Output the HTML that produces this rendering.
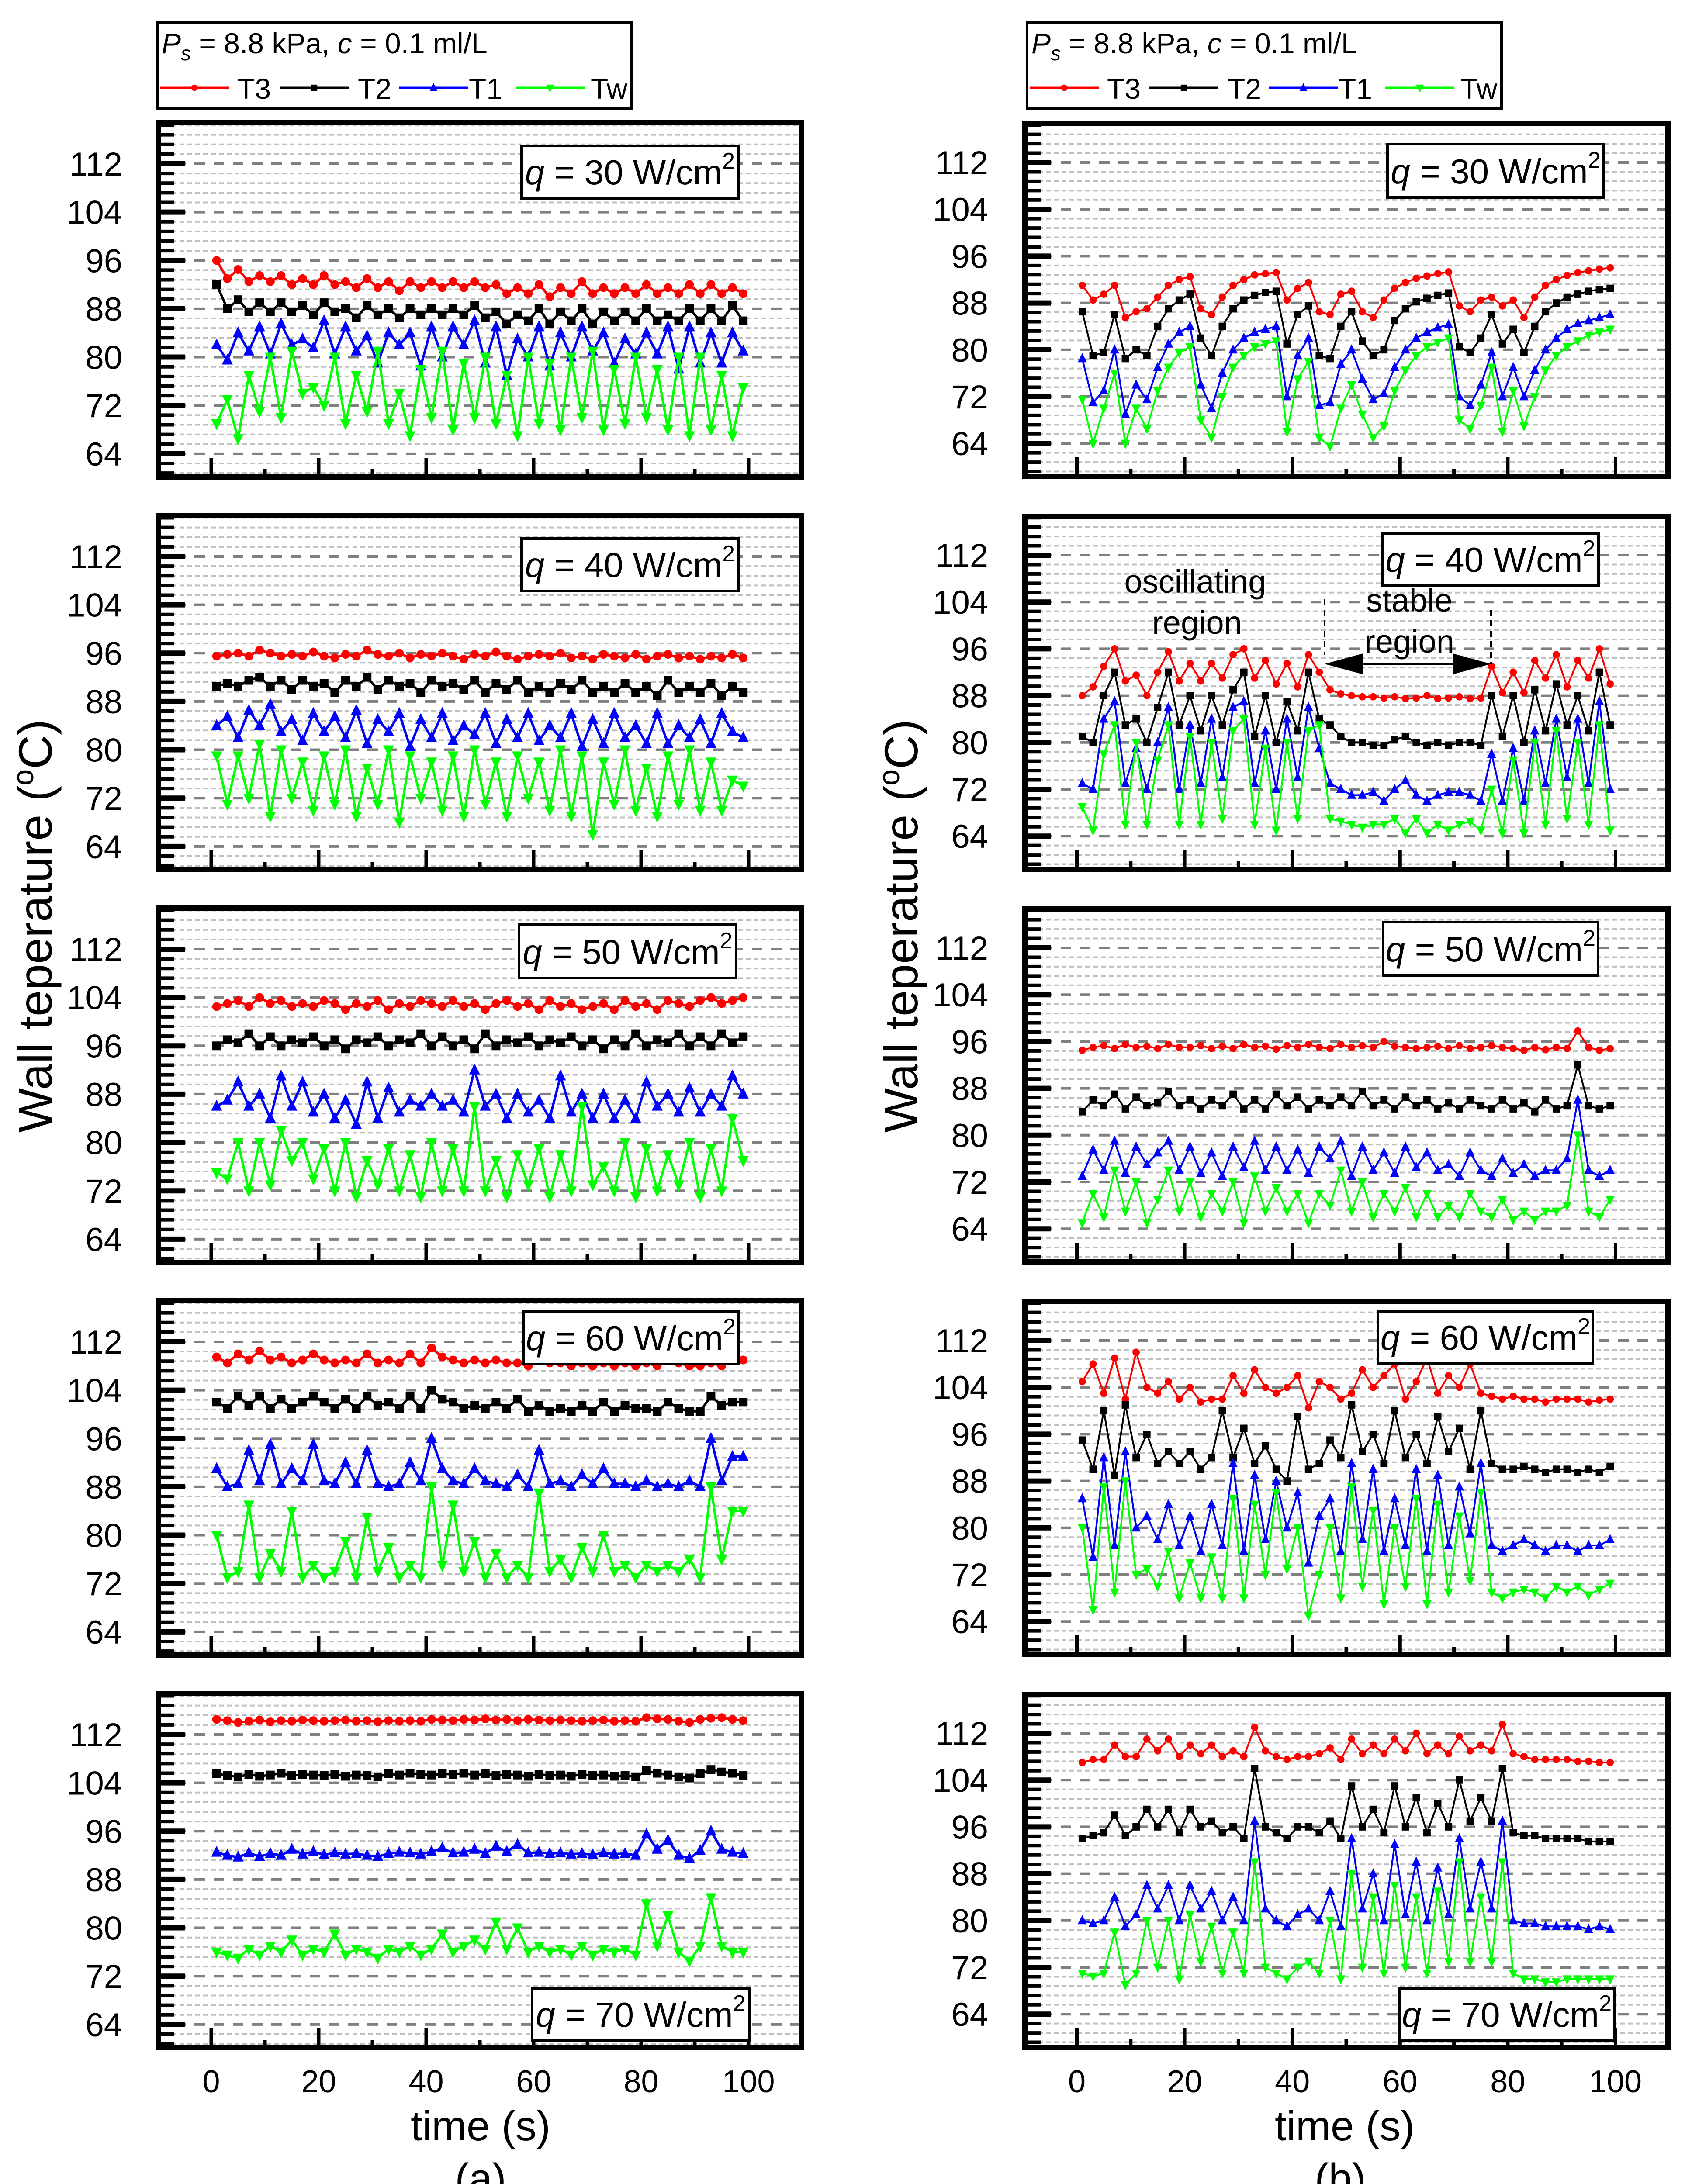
<!DOCTYPE html>
<html><head><meta charset="utf-8"><style>
html,body{margin:0;padding:0;background:#fff;width:3857px;height:5081px;overflow:hidden;}
svg{display:block;}
svg text{font-family:"Liberation Sans",Arial,sans-serif;}
</style></head><body>
<svg id="fig" xmlns="http://www.w3.org/2000/svg" width="3857" height="5081" viewBox="0 0 3857 5081" overflow="hidden">
<rect x="0" y="0" width="3857" height="5081" fill="#fff"/>
</svg>
<script>
const times=[1,3,5,7,9,11,13,15,17,19,21,23,25,27,29,31,33,35,37,39,41,43,45,47,49,51,53,55,57,59,61,63,65,67,69,71,73,75,77,79,81,83,85,87,89,91,93,95,97,99];
const yTickLabels=[64,72,80,88,96,104,112];
const xTickLabels=[0,20,40,60,80,100];
const seriesNames=["T3","T2","T1","Tw"];
const fluxLabels=[30,40,50,60,70];

const a30_T3=[96,93,94.5,92.5,93.5,92.5,93.5,92,93,92,93.5,92,92.5,91.5,93,91.5,92.5,91,92.5,91.5,92.5,91.5,92.5,91.5,92.5,91.5,92,90.5,91.5,90.5,92,90,91.5,90.5,92.5,90.5,91.5,90.5,91.5,90.5,92,90.5,91.5,90.5,92,90.5,92,90.5,91.5,90.5];
const a30_T2=[92,88,89.5,87.5,89,87.5,89,87.5,88.5,87,89,87.5,88,86.5,88.5,87,88,86.5,88,87,88,87,88,87,88.5,86.5,87.5,85.5,87,86,88,85.5,87.5,86,88,85.5,87.5,86,87.5,86,88,86,87,86,88,86,88,86,88.5,86];
const a30_T1=[82,79.5,84,81,85,80.5,85.5,82,83,81.5,86,80.5,85,81,83.5,79,84,82,84,78.5,85,80,85,82,86,79,85,77,83,80,85,78.5,84,80,85,81,84,79,83,80.5,84,80.5,85,78,85,79,84,79,84,81];
const a30_Tw=[69,73,66.5,77,71,80,70,81,74,75,72,80,69,77,71,81,69,74,67,78,70,81,68,79,70,80,69,77,67,80,69,79,68,80,70,81,68,78,69,80,70,78,68,80,67,80,68,77,67,75];

const a40_T3=[95.5,95.8,96,95.5,96.5,96,95.5,95.8,95.5,96.2,95.5,95.2,95.8,95.5,96.5,95.8,95.5,96,95.2,95.8,95.5,96,95.5,95,95.8,95.5,96.2,95.5,95,95.5,95.8,95.5,96,95.2,95.5,95,95.8,95.5,95.2,95.8,95,95.5,95.8,95.2,95.5,95,95.5,95.2,95.8,95.2];
const a40_T2=[90.5,91,90.5,91.5,92,90.5,91.5,90,91.5,90.5,91,89.5,91.5,90.5,92,90,91.5,90.5,91,89.5,91.5,90.5,91,90,91.5,89.5,91,90,91.5,89.5,90.5,89.5,91,90,91.5,89.5,90.5,89.5,91,89.5,90.5,89,91.5,89.5,90.5,89.5,91,89,90.5,89.5];
const a40_T1=[84,85.5,82,86.5,84,87.5,83,85,81.5,86,83,85.5,82,86.5,81,85,83,86,80.5,85,82,86,81.5,84,82.5,86,81,85,82,86,81.5,84,82,86,80.5,85,81,86,82,84,81,86,81,84,82,85,81,86,83,82];
const a40_Tw=[79,71,79,72,81,69,80,72,78,70,79,71,80,69,77,71,80,68,79,72,78,70,79,69,80,71,78,69,79,72,78,70,80,69,79,66,78,71,80,70,77,69,79,71,80,70,78,70,75,74];

const a50_T3=[102.5,103,103.5,102.5,104,103,103.5,102.5,103,102.5,103.5,103,102,103,102.5,103.5,102,103,102.5,103.5,103,102.5,103.5,102.5,103,102,103,103.5,102.5,103,102,103.5,102.5,103,102,102.5,103,102,103.5,102.5,103,102,103.5,103,102.5,103.5,104,103,103.5,104];
const a50_T2=[96,97,96.5,98,96,97.5,96,97,96.5,97.5,96,97,95.5,97,96.5,97.5,96,97,96.5,98,96,97.5,96,97,95.5,98,96,97,96.5,97.5,96,97,96.5,97.5,96,97,95.5,97,96,98,96,97,96.5,98,96,97.5,96,98,96.5,97.5];
const a50_T1=[86,87,90,86,88,84,91,86,90,85,88,84,87,83,90,84,89,85,87,86,88,86,87,85,92,86,88,84,88,85,87,84,91,85,88,84,88,84,87,84,90,86,88,85,89,85,88,86,91,88];
const a50_Tw=[75,74,80,72,80,73,82,77,80,74,79,72,80,71,77,73,79,72,78,71,80,72,79,72,86,72,77,71,78,73,79,71,78,72,86,73,76,72,80,71,79,72,78,73,80,71,79,72,84,77];

const a60_T3=[109.5,108.5,110,109,110.5,109,109.5,108.5,109,110,109,108.5,109,108.5,110,108.5,109,108.5,110,108.5,111,109.5,109,108.5,109,108.5,109,108.5,108.5,108,109.5,108.5,108.5,108,108.5,108,108.5,108,108.5,108,108.5,108,109,108.5,108,108,108.5,108,109,109];
const a60_T2=[102,101,103,101.5,103,101,102.5,101,102,103,102,101,102.5,101,103,101.5,102,101,103,101,104,102.5,102,101,101.5,101,102,101,102.5,100.5,101.5,100.5,101,100.5,101.5,100.5,102,100.5,101.5,101,101,100.5,102,101,100.5,100.5,103,101.5,102,102];
const a60_T1=[91,88,88.5,94,89,95,88.5,91,89,95,89,88.5,92,88.5,94,88.5,88,88.5,92,89,96,91,89,88.5,91,89,88.5,88,90,88,94,88.5,89,88,90,88.5,91,88.5,88.5,88,89,88,88.5,88,89,88,96,89,93,93];
const a60_Tw=[80,73,74,85,73,77,74,84,73,75,73,74,79,73,83,74,78,73,75,73,88,75,85,74,79,73,77,73,75,73,87,74,76,73,78,74,80,74,75,73,75,74,75,74,76,73,88,76,84,84];

const a70_T3=[114.5,114.3,114,114.2,114.4,114.1,114.3,114.2,114.4,114.3,114.2,114.3,114.4,114.2,114.3,114.1,114.3,114.2,114.3,114.2,114.5,114.4,114.3,114.5,114.4,114.6,114.4,114.5,114.3,114.5,114.4,114.3,114.4,114.3,114.2,114.3,114.4,114.2,114.3,114.2,114.8,114.6,114.5,114.2,114.0,114.5,114.7,114.8,114.5,114.3];
const a70_T2=[105.5,105.2,105.0,105.4,105.1,105.3,105.6,105.2,105.4,105.3,105.2,105.4,105.1,105.3,105.2,105.0,105.5,105.3,105.6,105.4,105.3,105.5,105.4,105.6,105.3,105.5,105.2,105.4,105.3,105.1,105.4,105.2,105.3,105.1,105.4,105.2,105.3,105.1,105.2,105.0,106.0,105.6,105.3,105.0,104.8,105.5,106.2,105.8,105.6,105.2];
const a70_T1=[92.5,92.0,91.7,92.4,91.8,92.3,92.0,93.0,92.2,92.6,92.1,92.4,92.2,92.3,92.0,91.8,92.3,92.5,92.4,92.2,92.6,93.2,92.4,92.5,93.0,92.3,93.5,92.6,93.8,92.4,92.5,92.3,92.4,92.2,92.3,92.1,92.4,92.2,92.3,92.0,95.5,93.0,94.5,92.0,91.5,92.8,96.0,93.0,92.5,92.3];
const a70_Tw=[76,75.5,75,76.5,75.5,77,76,78,75.5,76.5,76,79,75.5,76.5,76,75,76.5,76,77,75.5,76.5,79,76,77,78,76.5,81,76.5,80,76,77,76,76.5,75.5,77,75.5,76.5,76,76.5,75.5,84,77,82,76,74.5,77,85,77,76,76];

const b30_T3=[91,88.5,89.5,91,85.5,86.5,87,89,91,92,92.5,87,86,89,91,92,92.8,93,93.2,88.5,90.5,91.5,86.5,86,89.5,90,86.5,85.5,88.5,90.5,91.5,92.2,92.6,93,93.3,87.5,86.5,88.5,89,87.5,88.5,85.5,89,91,92,92.7,93.2,93.5,93.8,94];
const b30_T2=[86.5,79,79.5,86,78.5,80,79,84,87,88.5,89.5,82,79,84,87,88.5,89.3,89.8,90,81,86,87.5,79,78.5,84,86.5,81.5,79,80,85,87,88.2,88.8,89.3,89.7,80.5,79.5,82,86,81,83.5,79.5,84,86.5,88,89,89.5,90,90.3,90.5];
const b30_T1=[78.5,71,73,80,69,74,71.5,77,81,83,84,74,70,76,80,82,83,83.5,84,72,79,82,70.5,71,77.5,80,75,71.5,72.5,77,80,82,83,83.8,84.3,72,70.5,74,79.5,72,77,72,76.5,80,82,83.5,84.5,85,85.5,86];
const b30_Tw=[71.5,64,70,76,64,70,66.5,73,77,79.5,80.5,68,65,72,77,79,80.5,81,81.5,66,75,78,65,63.5,70,74,69,65,67,73,76.5,79,80.5,81.3,82,68,66.5,70.5,77,66,73,67,72,76.5,79,80.5,81.5,82.5,83,83.5];

const b40_T3=[88,89.5,93,96,90.5,91.5,88,92,95.5,90.5,93.5,90.5,93.5,91,95,96,91,94,90,93.5,89.5,95,92,89,88.3,88,87.8,87.8,87.6,87.8,87.5,87.6,88,87.5,87.6,87.8,87.5,87.6,93,88.5,92,88.5,94,91,95,89.5,94,91,96,90];
const b40_T2=[81,80,88,92,83,84,80,86,92,83,88,82,88,83,89,92,81,88,80,87,82,92,84,83,81,80,80,79.5,79.5,80.5,81,80,79.5,80,79.5,80,80,79.5,88,81,88,80,89,82,90,83,88,82,92,83];
const b40_T1=[73,72,84,87,73,79,72,80,86,72,83,73,84,74,86,87,73,82,72,84,74,86,79,73,72,71,71,71.5,70,72,73.5,71,70,71,71.5,71.5,71,70,78,70,79,70,82,73,84,74,84,73,87,72];
const b40_Tw=[69,65,78,83,66,80,66,77,83,66,81,66,80,67,82,84,66,79,65,80,67,82,83,67,66.5,66,65.5,66,66,67,64.5,67,64.5,66,65,66,66.5,65,72,64.5,77,64.5,80,66,82,67,80,66,83,65];

const b50_T3=[94.5,95,95.3,94.8,95.5,95,95.2,94.8,95.5,95,95,95.3,94.8,95.2,94.8,95.5,95,95.2,94.7,95.3,95,95.5,95,94.8,95.5,95,95.3,95,96,95.2,95,94.8,95,95.2,94.8,95.3,94.8,95,95.3,95,94.8,94.5,95,94.6,95,94.8,97.8,95,94.5,94.8];
const b50_T2=[84,86,85,87,84.5,86.5,85,85.5,87.5,85,86,84.5,86,85,87,84.5,86,84.5,87,85,86.5,84.5,86,85,86.5,85,87.5,85,86,84.5,86.5,85,86,84.5,85.5,84.5,86,85,84.5,86,84.5,85.5,84,86,84.5,85,92,85,84.5,85];
const b50_T1=[73,77.5,74,79,73.5,78,75,77,79,74,78,73.5,77,73,78,74.5,79,74,78,74,77.5,73.5,78,76,79,73,78,74,77,73.5,78,74.5,77,74,75,73,77,74,73,76,73.5,75,73,74,74,76,86,74,73,74];
const b50_Tw=[65,70,66,74,67,72,65,69,74,67,72,66,70,67,72,65,73,67,71,67,70,65,70,68,74,67,72,66,70,67,71,66,70,66,68,66,70,67,66,69,65.5,67,65.5,67,67,68,80,67,66,69];

const b60_T3=[105,108,103,109,102,110,104,103,105,102,104,101.5,102,102,106,103,107,104,103,104,106,100.5,105,104,102,103,107,104,106,108,102,105,109,103,106,104,108,103,102.5,102,102.5,102,102,101.5,102,102,102,101.5,101.8,102];
const b60_T2=[95,90,100,89,101,92,96,91,93,91,93,90,92,100,92,97,91,94,90,88,99,90,91,95,92,101,93,96,91,100,92,96,91,99,93,97,90,100,91,90,90,90.5,90,89.5,90,90,89.5,90,89.5,90.5];
const b60_T1=[85,75,92,77,93,80,82,78,84,77,82,76,84,77,91,76,89,78,88,80,86,74,82,85,76,91,78,90,76,85,77,90,76,89,77,87,79,91,77,76,77,78,77,76,77,77,76,77,77,78];
const b60_Tw=[80,66,87,69,88,72,73,70,76,68,74,68,75,68,85,68,84,72,86,73,80,65,72,80,68,87,70,83,67,80,70,85,67,84,69,82,71,86,69,68,69,69.5,69,68,70,69,70,68.5,69.5,70.5];

const b70_T3=[107,107.5,107.5,110,108,108,111,109,111,108,110,108.5,110,108,109,108,113,109,108,107.5,108,108,108.5,109.5,107.5,111,108.5,110,108.5,111,109,112,108.5,110,108.5,111.5,109,110,109,113.5,108.5,108,107.5,107.5,107.5,107.5,107.2,107.2,107,107];
const b70_T2=[94,94.5,95,98,94.5,96,99,96,99,95,99,96,97,95,96,94,106,96,95,94,96,96,95,97,94,103,96,99,95,103,96,101,95,100,96,104,97,101,97,106,95,94.5,94.5,94,94,94,94,93.5,93.5,93.5];
const b70_T1=[80,79.5,80,84,79,81,86,82,86,80,86,82,85,80,84,80,97,82,80,79,81,82,80,85,79,94,82,88,80,93,81,90,80,89,81,94,82,90,82,97,80,79.5,79.5,79,79,79,79,78.5,79,78.5];
const b70_Tw=[71,70.5,71,78,69,71,80,72,80,70,81,73,79,71,78,71,90,72,71,70,72,73,71,80,70,88,72,84,71,86,72,84,71,85,73,90,73,84,73,90,71,70,70,69.5,69.5,70,70,70,70,70];

const NS="http://www.w3.org/2000/svg";
const svg=document.getElementById('fig');
function mk(tag,attrs,parent){const e=document.createElementNS(NS,tag);for(const k in attrs)e.setAttribute(k,attrs[k]);(parent||svg).appendChild(e);return e;}
const colors=["#ff0000","#000000","#0000ff","#00ff00"];
const dataA=[[a30_T3,a30_T2,a30_T1,a30_Tw],[a40_T3,a40_T2,a40_T1,a40_Tw],[a50_T3,a50_T2,a50_T1,a50_Tw],[a60_T3,a60_T2,a60_T1,a60_Tw],[a70_T3,a70_T2,a70_T1,a70_Tw]];
const dataB=[[b30_T3,b30_T2,b30_T1,b30_Tw],[b40_T3,b40_T2,b40_T1,b40_Tw],[b50_T3,b50_T2,b50_T1,b50_Tw],[b60_T3,b60_T2,b60_T1,b60_Tw],[b70_T3,b70_T2,b70_T1,b70_Tw]];
const cols=[
 {key:'a',fx0:357,fx1:1841,x0:483.5,pps:12.3,y112:375,ppd:13.83,ft:275,fb:1098,lab:280,data:dataA,lw:5.5,ms:1.25,
  boxes:[[1194,334,1690,454],[1194,1233,1690,1353],[1188,2117,1685,2239],[1198,3003,1690,3123],[1218,4552,1715,4672]]},
 {key:'b',fx0:2340,fx1:3824,x0:2465,pps:12.33,y112:372,ppd:13.4,ft:277,fb:1097,lab:2262,data:dataB,lw:4,ms:1.05,
  boxes:[[3176,330,3671,452],[3164,1222,3659,1341],[3166,2111,3658,2233],[3154,3003,3646,3122],[3203,4552,3695,4672]]}
];
const ROW=899;
function marker(g,i,x,y,c,s){
  s=s||1;
  if(i===0){mk('circle',{cx:x,cy:y,r:8*s,fill:c},g);}
  else if(i===1){mk('rect',{x:x-8*s,y:y-8*s,width:16*s,height:16*s,fill:c},g);}
  else if(i===2){mk('polygon',{points:`${x},${y-12*s} ${x-10*s},${y+8*s} ${x+10*s},${y+8*s}`,fill:c},g);}
  else {mk('polygon',{points:`${x},${y+12*s} ${x-10*s},${y-8*s} ${x+10*s},${y-8*s}`,fill:c},g);}
}
cols.forEach((C,ci)=>{
  for(let r=0;r<5;r++){
    const off=r*ROW;
    const top=C.ft+off, bot=C.fb+off;
    const yS=v=>C.y112+off+(112-v)*C.ppd;
    const xS=t=>C.x0+t*C.pps;
    const g=mk('g',{});
    
    
    const cid='clip'+C.key+r;
    const cp=mk('clipPath',{id:cid},g);
    mk('rect',{x:C.fx0+6,y:top+6,width:C.fx1-C.fx0-12,height:bot-top-12},cp);
    const grid=mk('g',{'clip-path':`url(#${cid})`},g);
    
    
    for(let k=-3;k<=40;k++){
      const v=64+k*1.6; const y=yS(v);
      if(y<top+6||y>bot-6)continue;
      const major=(k%5===0)&&v>=63.9&&v<=112.1;
      if(major) mk('line',{x1:C.fx0,x2:C.fx1,y1:y,y2:y,stroke:'#808080','stroke-width':6,'stroke-dasharray':'24 20'},grid);
      else mk('line',{x1:C.fx0,x2:C.fx1,y1:y,y2:y,stroke:'#c0c0c0','stroke-width':4,'stroke-dasharray':'11 7'},grid);
    }
    const ticks=mk('g',{},g);
    
    
    for(let k=-3;k<=40;k++){
      const v=64+k*1.6; const y=yS(v);
      if(y<top+8||y>bot-8)continue;
      const major=(k%5===0)&&v>=63.9&&v<=112.1;
      mk('line',{x1:C.fx0,x2:C.fx0+(major?66:42),y1:y,y2:y,stroke:'#000','stroke-width':major?12:8},ticks);
    }
    for(let t=0;t<=100;t+=10){
      const x=xS(t); const major=t%20===0;
      mk('line',{x1:x,x2:x,y1:bot,y2:bot-(major?50:24),stroke:'#000','stroke-width':8},ticks);
    }
    yTickLabels.forEach(v=>{
      const tl=mk('text',{x:C.lab,y:yS(v)+27,'font-size':76,'text-anchor':'end',fill:'#000'},g);
      
      
      tl.textContent=v;
    });
    const sg=mk('g',{'clip-path':`url(#${cid})`},g);
    C.data[r].forEach((vals,si)=>{
      const s=mk('g',{},sg);
      
      
      const pts=vals.map((v,j)=>xS(times[j]).toFixed(1)+','+yS(v).toFixed(1)).join(' ');
      mk('polyline',{points:pts,fill:'none',stroke:colors[si],'stroke-width':C.lw,'stroke-linejoin':'round'},s);
      vals.forEach((v,j)=>{marker(s,si,xS(times[j]),yS(v),colors[si],C.ms);});
    });
    const fr=mk('rect',{x:C.fx0+6,y:top+6,width:C.fx1-C.fx0-12,height:bot-top-12,fill:'none',stroke:'#000','stroke-width':12},g);
    
    
    const b=C.boxes[r];
    const bg=mk('g',{},g);
    
    
    mk('rect',{x:b[0],y:b[1],width:b[2]-b[0],height:b[3]-b[1],fill:'#fff',stroke:'#000','stroke-width':6},bg);
    const bt=mk('text',{x:(b[0]+b[2])/2,y:b[3]-32,'font-size':80,'text-anchor':'middle',fill:'#000'},bg);
    bt.innerHTML=`<tspan font-style="italic">q</tspan> = ${fluxLabels[r]} W/cm<tspan font-size="52" dy="-36">2</tspan>`;
    if(r===4){
      xTickLabels.forEach(t=>{
        const xl=mk('text',{x:xS(t),y:4790,'font-size':72,'text-anchor':'middle',fill:'#000'},svg);
        
        
        xl.textContent=t;
      });
    }
  }
  const dx=ci===0?0:1991;
  const lg=mk('g',{});
  
  
  mk('rect',{x:357+dx+3,y:51,width:1086,height:197,fill:'#fff',stroke:'#000','stroke-width':6},lg);
  const lt=mk('text',{x:370+dx,y:122,'font-size':66,fill:'#000'},lg);
  lt.innerHTML='<tspan font-style="italic">P</tspan><tspan font-style="italic" font-size="46" dy="16">s</tspan><tspan dy="-16"> = 8.8 kPa, </tspan><tspan font-style="italic">c</tspan> = 0.1 ml/L';
  const ent=[[366,524,543],[640,798,819],[914,1071,1073],[1180,1338,1352]];
  ent.forEach((e,si)=>{
    const eg=mk('g',{},lg);
    
    
    mk('line',{x1:e[0]+dx,x2:e[1]+dx,y1:201,y2:201,stroke:colors[si],'stroke-width':5},eg);
    marker(eg,si,(e[0]+e[1])/2+dx,201,colors[si],0.9);
    const t=mk('text',{x:e[2]+dx,y:226,'font-size':66,fill:'#000'},eg);
    t.textContent=seriesNames[si];
  });
});
const an=mk('g',{});


[['oscillating',2736,1357],['region',2740,1451],['stable',3226,1400],['region',3226,1494]].forEach(a=>{
  const t=mk('text',{x:a[1],y:a[2],'font-size':74,'text-anchor':'middle',fill:'#000'},an);
  t.textContent=a[0];
});
mk('line',{x1:3032,x2:3032,y1:1372,y2:1500,stroke:'#000','stroke-width':4,'stroke-dasharray':'14 10'},an);
mk('line',{x1:3413,x2:3413,y1:1396,y2:1520,stroke:'#000','stroke-width':4,'stroke-dasharray':'14 10'},an);
mk('line',{x1:3070,x2:3375,y1:1520,y2:1520,stroke:'#000','stroke-width':5},an);
mk('polygon',{points:'3032,1520 3120,1496 3120,1544',fill:'#000'},an);
mk('polygon',{points:'3413,1520 3325,1496 3325,1544',fill:'#000'},an);
function txt(s,x,y,fs,name,extra){const t=mk('text',Object.assign({x:x,y:y,'font-size':fs,'text-anchor':'middle',fill:'#000'},extra||{}));t.innerHTML=s;return t;}
txt('Wall teperature (<tspan font-size="68" dy="-42">o</tspan><tspan dy="42">C)</tspan>',0,0,108,'y-axis-title-a',{transform:'translate(118,2120) rotate(-90)'});
txt('Wall teperature (<tspan font-size="68" dy="-42">o</tspan><tspan dy="42">C)</tspan>',0,0,108,'y-axis-title-b',{transform:'translate(2100,2120) rotate(-90)'});
txt('time (s)',1100,4900,96,'x-axis-title-a');
txt('time (s)',3078,4900,96,'x-axis-title-b');
txt('(a)',1100,5020,96,'subfigure-label-a');
txt('(b)',3068,5020,96,'subfigure-label-b');
</script>
</body></html>
